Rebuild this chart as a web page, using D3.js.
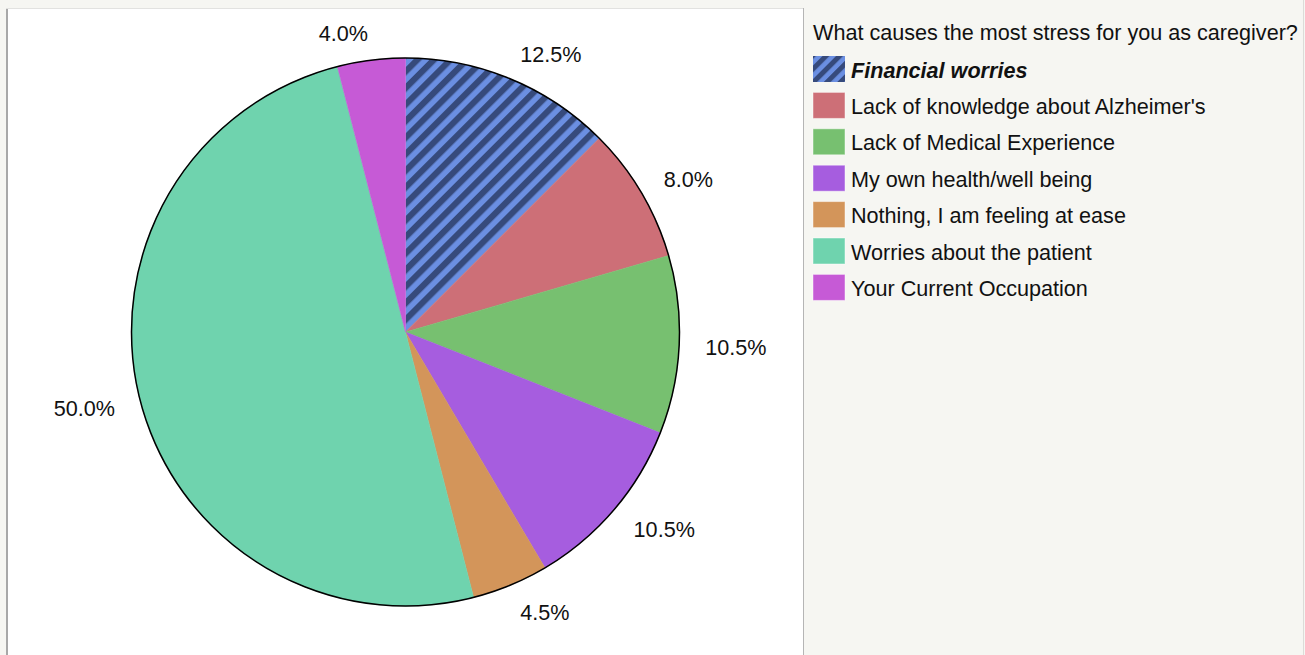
<!DOCTYPE html>
<html>
<head>
<meta charset="utf-8">
<script src="https://cdn.jsdelivr.net/npm/d3@7"></script>
<style>
  html, body { margin: 0; padding: 0; background: #f6f6f2; }
  svg { display: block; }
  text { font-family: "Liberation Sans", Arial, Helvetica, sans-serif; fill: #111; }
</style>
</head>
<body>
<svg id="chart" width="1305" height="655"></svg>
<script>
const title = "What causes the most stress for you as caregiver?";
const categories = [
  "Financial worries",
  "Lack of knowledge about Alzheimer's",
  "Lack of Medical Experience",
  "My own health/well being",
  "Nothing, I am feeling at ease",
  "Worries about the patient",
  "Your Current Occupation"
];
const values = [12.5, 8.0, 10.5, 10.5, 4.5, 50.0, 4.0];
const colors = ["url(#stripes)", "#cd6f77", "#77c070", "#a65ddf", "#d3955a", "#6fd3ae", "#c65ad6"];
const highlighted = "Financial worries";

const svg = d3.select("#chart");
const W = 1305, H = 655;

// defs: stripe patterns
const defs = svg.append("defs");
function stripePattern(id, p, dark) {
  const pat = defs.append("pattern")
    .attr("id", id)
    .attr("patternUnits", "userSpaceOnUse")
    .attr("width", p).attr("height", p)
    .attr("patternTransform", "rotate(45)");
  pat.append("rect").attr("width", p).attr("height", p).attr("fill", "#6b8fe2");
  pat.append("rect").attr("width", dark).attr("height", p).attr("fill", "#364a7c");
}
stripePattern("stripes", 11.7, 6.2);
stripePattern("stripesLegend", 9.6, 5.0);

// white chart panel
svg.append("rect").attr("x", 7).attr("y", 8).attr("width", 797).attr("height", H)
  .attr("fill", "#fff");
svg.append("line").attr("x1", 7).attr("x2", 7).attr("y1", 8).attr("y2", H)
  .attr("stroke", "#a8a8a8").attr("stroke-width", 2);
svg.append("line").attr("x1", 6).attr("x2", 804).attr("y1", 8.5).attr("y2", 8.5)
  .attr("stroke", "#e2e2e0").attr("stroke-width", 1);
svg.append("line").attr("x1", 803.5).attr("x2", 803.5).attr("y1", 8).attr("y2", H)
  .attr("stroke", "#b5b5b5").attr("stroke-width", 1);
svg.append("line").attr("x1", 1303.5).attr("x2", 1303.5).attr("y1", 0).attr("y2", H)
  .attr("stroke", "#dcdcd8").attr("stroke-width", 1);

// pie
const cx = 405.5, cy = 332, R = 274, LR = 300;
const pie = d3.pie().sort(null).value(d => d.v);
const data = categories.map((c, i) => ({ c, v: values[i], col: colors[i] }));
const arcs = pie(data);
const arc = d3.arc().innerRadius(0).outerRadius(R);
const g = svg.append("g").attr("transform", `translate(${cx},${cy})`);

g.selectAll("path.slice").data(arcs).join("path")
  .attr("class", "slice")
  .attr("d", arc)
  .attr("fill", d => d.data.col)
  .attr("stroke", d => d.data.col.startsWith("url") ? "none" : d.data.col)
  .attr("stroke-width", 0.5);

g.append("circle").attr("r", R).attr("fill", "none")
  .attr("stroke", "#000").attr("stroke-width", 1.5);

const fmt = d3.format(".1f");
g.selectAll("text.lbl").data(arcs).join("text")
  .attr("class", "lbl")
  .attr("x", d => Math.sin((d.startAngle + d.endAngle) / 2) * LR)
  .attr("y", d => {
    const a = (d.startAngle + d.endAngle) / 2;
    return -Math.cos(a) * LR + 7.7 + 1 - 2 * Math.cos(a);
  })
  .attr("text-anchor", d => Math.sin((d.startAngle + d.endAngle) / 2) >= 0 ? "start" : "end")
  .style("font-size", "21.6px")
  .text(d => fmt(d.data.v) + "%");

// legend
const lg = svg.append("g");
lg.append("text").attr("x", 813).attr("y", 40)
  .style("font-size", "21.6px").text(title);

const rows = lg.selectAll("g.row").data(data).join("g")
  .attr("class", "row")
  .attr("transform", (d, i) => `translate(0, ${77.5 + i * 36.4})`);
rows.append("rect")
  .attr("x", 813).attr("y", -21.5).attr("width", 32).attr("height", 26)
  .attr("fill", d => d.col.startsWith("url") ? "url(#stripesLegend)" : d.col)
  .attr("stroke", d => d.c === highlighted ? "none" : "rgba(255,255,255,0.45)")
  .attr("stroke-width", 1);
rows.append("text")
  .attr("x", 851).attr("y", 0)
  .style("font-size", "21.6px")
  .style("font-weight", d => d.c === highlighted ? "bold" : "normal")
  .style("font-style", d => d.c === highlighted ? "italic" : "normal")
  .text(d => d.c);
</script>
</body>
</html>
